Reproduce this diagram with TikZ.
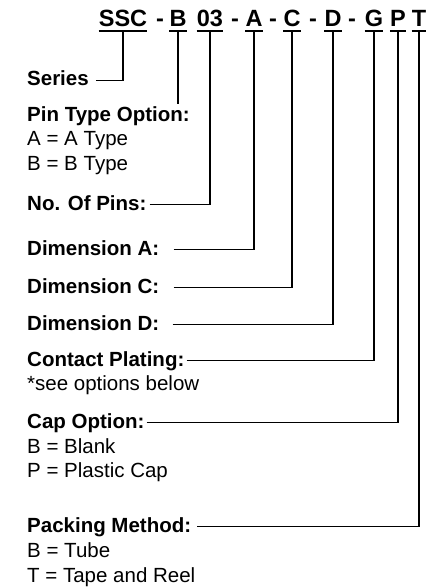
\documentclass[tikz,border=0pt]{standalone}
\usepackage{fontspec}
\setmainfont{Liberation Sans}
\begin{document}
\begin{tikzpicture}[x=1pt,y=-1pt,
  tok/.style={anchor=base,inner sep=0pt,text depth=4pt,font=\fontsize{23.5}{26}\selectfont\bfseries},
  dashtok/.style={anchor=base,inner sep=0pt,font=\fontsize{23.5}{26}\selectfont\bfseries},
  lab/.style={anchor=base west,inner sep=0pt,text height=11pt,text depth=0pt,font=\fontsize{20.5}{24}\selectfont\bfseries},
  txt/.style={anchor=base west,inner sep=0pt,font=\fontsize{20.5}{24}\selectfont},
  ln/.style={line width=1.9pt},
  ul/.style={line width=2.2pt}]
\useasboundingbox (0,0) rectangle (437,588);
% title tokens
\node[tok] (ssc) at (123,27) {SSC};
\node[dashtok] (d1) at (160,27) {-};
\node[tok] (b) at (178,27) {B};
\node[tok] (n03) at (210,27) {03};
\node[dashtok] (d2) at (235,27) {-};
\node[tok] (a) at (254,27) {A};
\node[dashtok] (d3) at (273,27) {-};
\node[tok] (c) at (292,27) {C};
\node[dashtok] (d4) at (313,27) {-};
\node[tok] (d) at (333,27) {D};
\node[dashtok] (d5) at (352,27) {-};
\node[tok] (g) at (374,27) {G};
\node[tok] (p) at (398,27) {P};
\node[tok] (t) at (419,27) {T};
\foreach \n in {ssc,b,n03,a,c,d,g,p,t}{\draw[ul] (\n.south west) -- (\n.south east);}
% labels
\node[lab] (series) at (27,86) {Series};
\node[lab] (pintype) at (27,122) {Pin Type Option:};
\node[txt] (pa) at (27,146) {A = A Type};
\node[txt] (pb) at (27,170) {B = B Type};
\node[lab] (pins) at (27,210) {No. Of Pins:};
\node[lab] (dima) at (27,255) {Dimension A:};
\node[lab] (dimc) at (27,293) {Dimension C:};
\node[lab] (dimd) at (27,330) {Dimension D:};
\node[lab] (plating) at (27,366) {Contact Plating:};
\node[txt] (see) at (27,390) {*see options below};
\node[lab] (cap) at (27,428) {Cap Option:};
\node[txt] (capb) at (27,453) {B = Blank};
\node[txt] (capp) at (27,477) {P = Plastic Cap};
\node[lab] (pack) at (27,532) {Packing Method:};
\node[txt] (packb) at (27,557) {B = Tube};
\node[txt] (packt) at (27,582) {T = Tape and Reel};
% connectors
\draw[ln] ([xshift=7pt]series.east) -| (ssc.south);
\draw[ln] (b.south) -- ([yshift=7pt]pintype.north -| b.south);
\draw[ln] ([xshift=3pt]pins.east) -| (n03.south);
\draw[ln] ([xshift=14pt]dima.east) -| (a.south);
\draw[ln] ([xshift=14pt]dimc.east) -| (c.south);
\draw[ln] ([xshift=13pt]dimd.east) -| (d.south);
\draw[ln] ([xshift=2pt]plating.east) -| (g.south);
\draw[ln] ([xshift=2pt]cap.east) -| (p.south);
\draw[ln] ([xshift=6pt]pack.east) -| (t.south);
\end{tikzpicture}
\end{document}
